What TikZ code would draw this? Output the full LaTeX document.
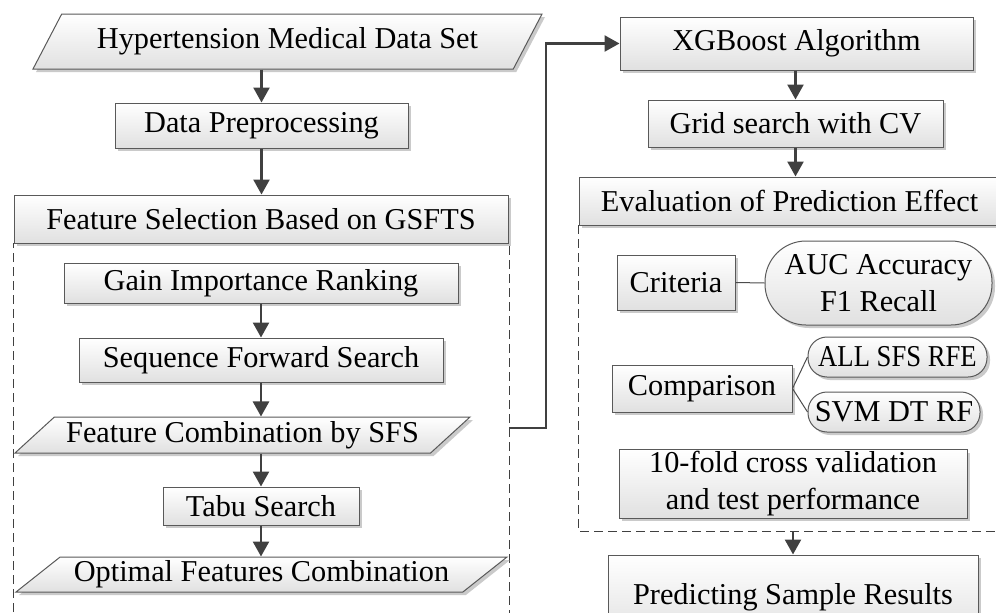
\documentclass[tikz,border=0pt]{standalone}
\usepackage{fontspec}
\setmainfont{Liberation Serif}
\usepackage{graphicx}
\usetikzlibrary{shapes.geometric,shadows,arrows.meta}

\begin{document}
\begin{tikzpicture}[x=1pt,y=-1pt,
    font=\fontsize{30.3}{37}\selectfont,
    caixa/.style={draw=black!65, line width=1pt, top color=white, bottom color=black!12,
      drop shadow={shadow xshift=3pt, shadow yshift=-3pt, fill=black!35, opacity=.6},
      inner sep=2pt, align=center},
    paral/.style={caixa, trapezium, trapezium stretches body},
    capsula/.style={caixa, rounded corners=#1},
    seta/.style={draw=black!75, line width=2.5pt, -{Triangle[length=15pt,width=16pt]}},
    liga/.style={draw=black!70, line width=1pt},
    borda/.style={draw=black!75, line width=1pt, dash pattern=on 9pt off 5pt}]
  \useasboundingbox (0,0) rectangle (996,613);
  \clip (0,0) rectangle (996,613);

  % Regioes tracejadas
  \draw[borda] (13,640) -- (13,243) -- (509,243) -- (509,640);
  \draw[borda] (578,225) rectangle (1010,531);

  % Coluna da esquerda
  \node[paral, trapezium left angle=47.7, trapezium right angle=132.3,
    minimum width=509pt, minimum height=55pt] (dados) at (287.5,41.5) {Hypertension Medical Data Set};
  \node[caixa, minimum width=293pt, minimum height=45pt] (prep) at (261.5,125.5) {Data Preprocessing};
  \node[caixa, minimum width=494pt, minimum height=48pt] (fsel) at (261,219) {Feature Selection Based on GSFTS};
  \node[caixa, minimum width=394pt, minimum height=40pt] (gain) at (261,283) {Gain Importance Ranking};
  \node[caixa, minimum width=364pt, minimum height=44pt] (sfs) at (261,360) {Sequence Forward Search};
  \node[paral, trapezium left angle=38.7, trapezium right angle=141.3,
    minimum width=455pt, minimum height=36pt] (comb) at (242.5,435) {Feature Combination by SFS};
  \node[caixa, minimum width=196pt, minimum height=38pt] (tabu) at (261,506) {Tabu Search};
  \node[paral, trapezium left angle=35.5, trapezium right angle=144.5,
    minimum width=491pt, minimum height=35pt] (otimo) at (261.5,574.5) {Optimal Features Combination};

  % Coluna da direita
  \node[caixa, minimum width=353pt, minimum height=53pt] (xgb) at (796.5,43.5) {XGBoost Algorithm};
  \node[caixa, minimum width=295pt, minimum height=47pt] (grid) at (795.5,123.5) {Grid search with CV};
  \node[caixa, minimum width=421pt, minimum height=48pt] (aval) at (789.5,201) {Evaluation of Prediction Effect};
  \node[caixa, minimum width=118pt, minimum height=55pt] (crit) at (676,282.5) {Criteria};
  \node[capsula=41pt, minimum width=227pt, minimum height=84pt] (metr) at (878.5,283) {AUC Accuracy\\F1 Recall};
  \node[caixa, minimum width=180pt, minimum height=47pt] (comp) at (702,388.5) {Comparison};
  \node[capsula=19pt, minimum width=179pt, minimum height=40pt] (sel) at (897.5,357) {\scalebox{0.88}[1]{ALL SFS RFE}};
  \node[capsula=19pt, minimum width=172pt, minimum height=40pt] (clf) at (894,412) {SVM DT RF};
  \node[caixa, minimum width=348pt, minimum height=68pt] (cv) at (793,484) {10-fold cross validation\\and test performance};
  \node[caixa, minimum width=370pt, minimum height=84pt] (pred) at (793,597) {Predicting Sample Results};

  % Setas
  \draw[seta] (dados.south -| prep.north) -- (prep.north);
  \draw[seta] (prep.south) -- (prep.south |- fsel.north);
  \draw[seta] (gain.south) -- (gain.south |- sfs.north);
  \draw[seta] (sfs.south) -- (sfs.south |- comb.north);
  \draw[seta] (comb.south -| tabu.north) -- (tabu.north);
  \draw[seta] (tabu.south) -- (tabu.south |- otimo.north);

  \coordinate (saida) at (509,428);
  \draw[seta] (saida) -- ++(37,0) |- (xgb.west);

  \draw[seta] (grid.north |- xgb.south) -- (grid.north);
  \draw[seta] (grid.south) -- (grid.south |- aval.north);

  % Ligacoes
  \draw[liga] (crit.east) -- (metr.west);
  \draw[liga] (comp.east) -- (sel.west);
  \draw[liga] (comp.east) -- (clf.west);

  \coordinate (fim) at (793,531);
  \draw[seta] (fim) -- (pred.north);
\end{tikzpicture}
\end{document}
